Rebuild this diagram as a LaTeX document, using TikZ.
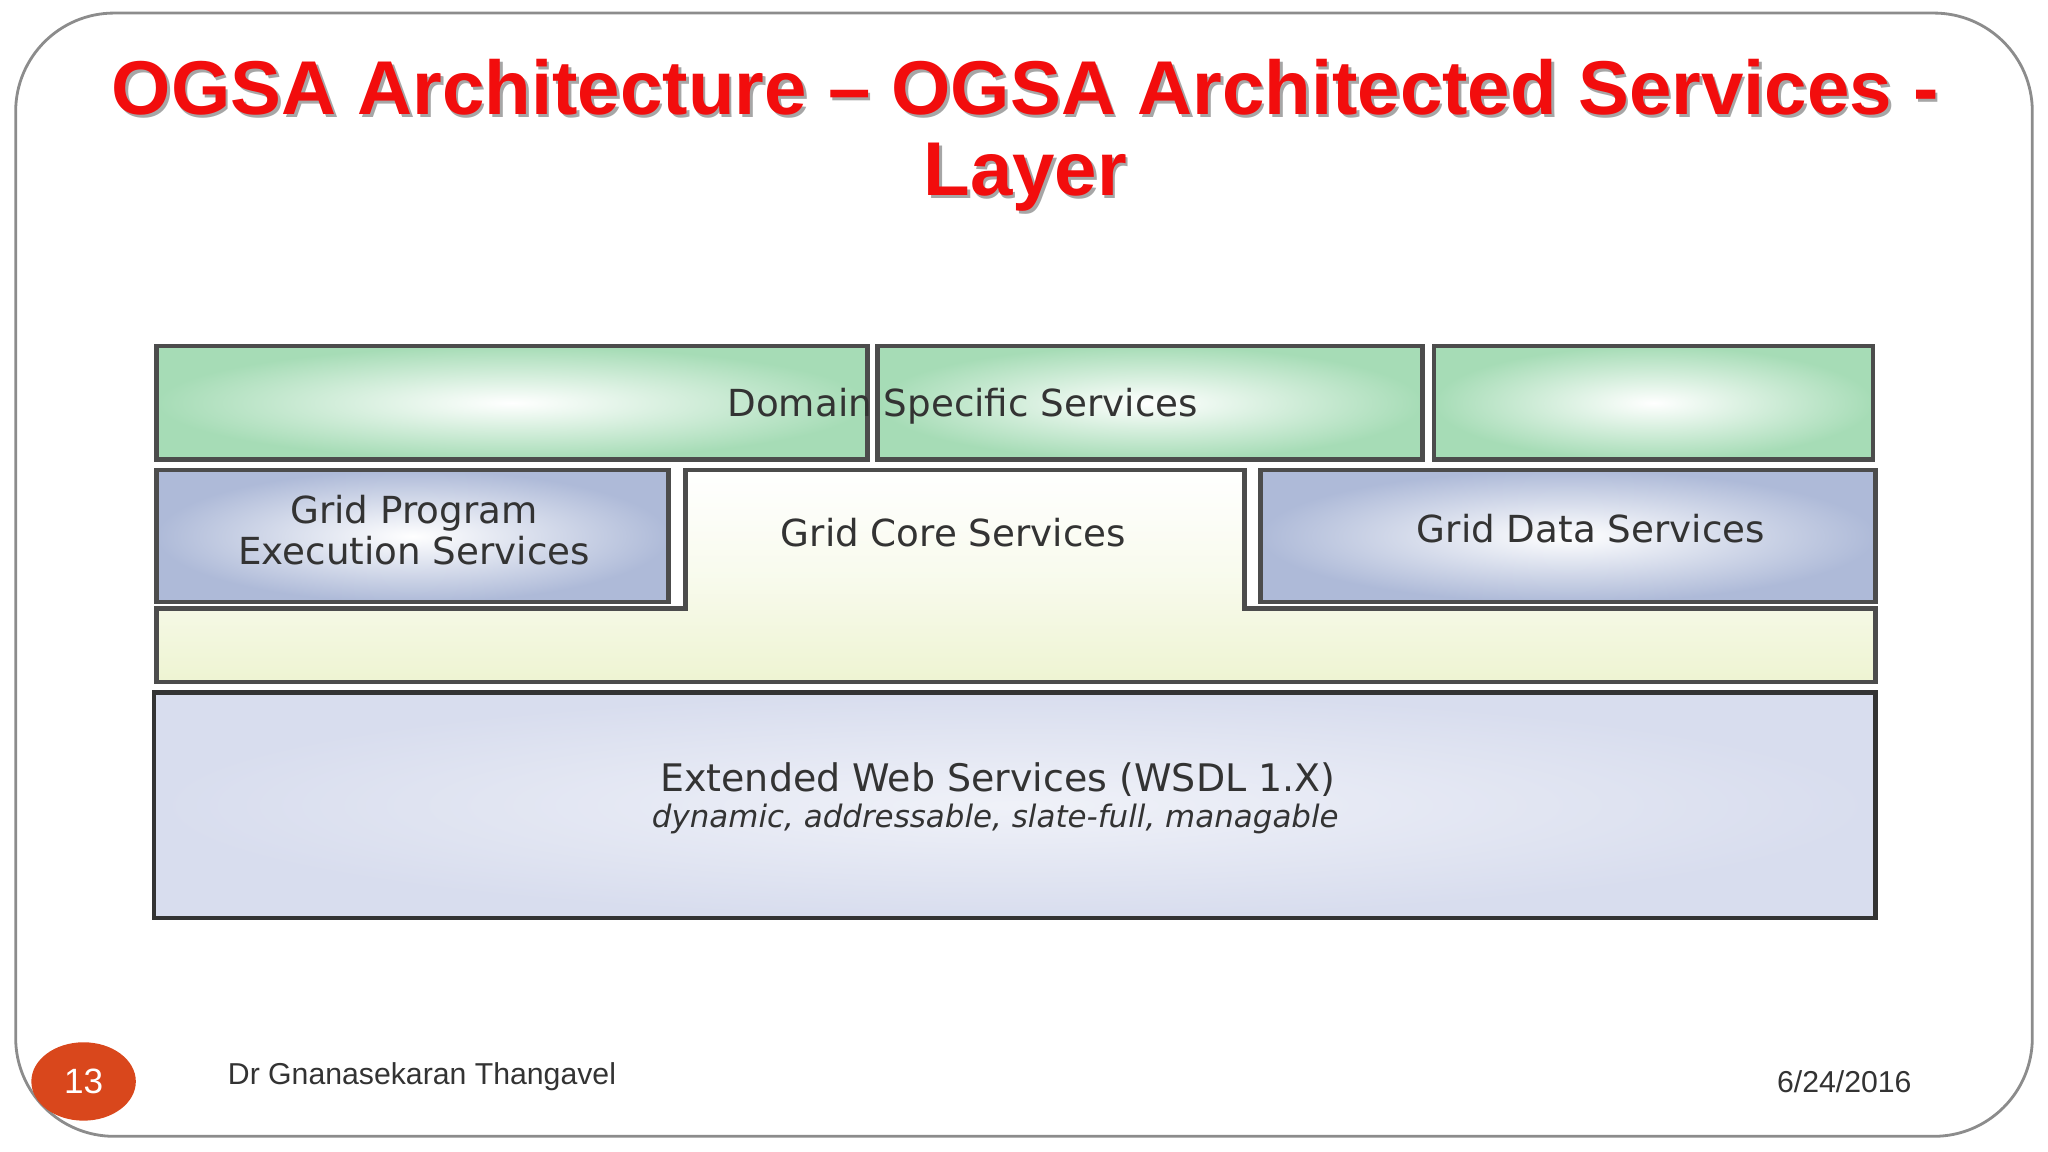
\documentclass[tikz,border=0pt]{standalone}
\usepackage{fontspec}
\setmainfont{Liberation Sans}
\newfontfamily\dejavu{DejaVu Sans}
\definecolor{ttl}{HTML}{F20D0D}
\definecolor{grn}{HTML}{A6DCB6}
\definecolor{blu}{HTML}{AEBAD8}
\definecolor{yel}{HTML}{EEF4D2}
\definecolor{lav}{HTML}{D8DDEE}
\definecolor{org}{HTML}{D9471C}
\definecolor{txt}{HTML}{333333}
\begin{document}
\begin{tikzpicture}[x=0.013061cm,y=-0.013061cm,
  gbox/.style={draw=black!70,line width=1.3pt,inner color=white,outer color=grn},
  bbox/.style={draw=black!70,line width=1.3pt,inner color=white,outer color=blu},
  lbl/.style={font=\dejavu\fontsize{10.6pt}{11.6pt}\selectfont,text=txt,align=center}]
\useasboundingbox (0,0) rectangle (1568,882);
\fill[white] (0,0) rectangle (1568,882);
\draw[black!45,line width=0.8pt,rounded corners=28] (12,10) rectangle (1556,870);
% title
\foreach \dx/\c in {2/black!35,0/ttl}{
\node[font=\fontsize{21.7pt}{26pt}\selectfont\bfseries,text=\c] (t1) at (785+\dx,67+\dx) {OGSA Architecture – OGSA Architected Services -};
\node[font=\fontsize{21.7pt}{26pt}\selectfont\bfseries,text=\c] (t2) at (785+\dx,136+\dx) {Layer};}
% domain row
\fill[gbox] (120,265) rectangle (664,352);
\fill[gbox] (672,265) rectangle (1089,352);
\fill[gbox] (1098,265) rectangle (1434,352);
\draw[black!70,line width=1.3pt] (120,265) rectangle (664,352) (672,265) rectangle (1089,352) (1098,265) rectangle (1434,352);
\node[lbl] (dom) at (737,311) {Domain Specific Services};
% core
\path[draw=black!70,line width=1.3pt,top color=white,bottom color=yel,middle color=white!60!yel]
 (525,360) -- (953,360) -- (953,466) -- (1436,466) -- (1436,522) -- (120,522) -- (120,466) -- (525,466) -- cycle;
\node[lbl] (core) at (730,408) {Grid Core Services};
% program / data
\path[bbox] (120,360) rectangle (512,461);
\node[lbl,inner sep=0pt] (prog) at (317,406) {Grid Program\\Execution Services};
\path[bbox] (965,360) rectangle (1436,461);
\node[lbl] (data) at (1218,405) {Grid Data Services};
% extended
\path[draw=black!80,line width=1.3pt,inner color=white!60!lav,outer color=lav] (118,530) rectangle (1436,703);
\node[lbl,font=\dejavu\fontsize{10.8pt}{12pt}\selectfont] (ext) at (764,597) {Extended Web Services (WSDL 1.X)};
\node[font=\dejavu\fontsize{8.8pt}{10pt}\selectfont\itshape,text=txt] (dyn) at (762,627) {dynamic, addressable, slate-full, managable};
% footer
\fill[org] (64,828) ellipse (40 and 30);
\node[text=white,font=\fontsize{10pt}{12pt}\selectfont] (num) at (64,828) {13};
\node[anchor=west,text=txt,font=\fontsize{8.6pt}{10pt}\selectfont] (auth) at (165,824) {Dr Gnanasekaran Thangavel};
\node[anchor=east,text=txt,font=\fontsize{8.6pt}{10pt}\selectfont] (date) at (1473,828) {6/24/2016};
\end{tikzpicture}
\end{document}
